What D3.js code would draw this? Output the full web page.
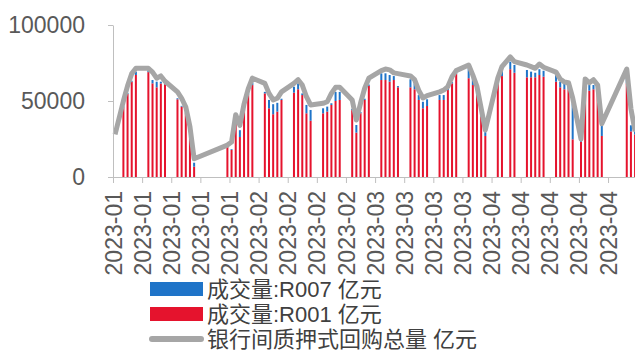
<!DOCTYPE html>
<html>
<head>
<meta charset="utf-8">
<script src="https://cdn.jsdelivr.net/npm/d3@7"></script>
<style>
  html, body { margin: 0; padding: 0; background: #fff; }
  svg { display: block; font-family: "Liberation Sans", Arial, sans-serif; }
</style>
</head>
<body>
<div id="chart"></div>
<script>
// trading days (first entry only carries the line)
const dates = [
  "2023-01-01","2023-01-03","2023-01-04","2023-01-05","2023-01-06",
  "2023-01-09","2023-01-10","2023-01-11","2023-01-12","2023-01-13",
  "2023-01-16","2023-01-17","2023-01-18","2023-01-19","2023-01-20",
  "2023-01-28","2023-01-29","2023-01-30","2023-01-31",
  "2023-02-01","2023-02-02","2023-02-03",
  "2023-02-06","2023-02-07","2023-02-08","2023-02-09","2023-02-10",
  "2023-02-13","2023-02-14","2023-02-15","2023-02-16","2023-02-17",
  "2023-02-20","2023-02-21","2023-02-22","2023-02-23","2023-02-24",
  "2023-02-27","2023-02-28","2023-03-01","2023-03-02","2023-03-03",
  "2023-03-06","2023-03-07","2023-03-08","2023-03-09","2023-03-10",
  "2023-03-13","2023-03-14","2023-03-15","2023-03-16","2023-03-17",
  "2023-03-20","2023-03-21","2023-03-22","2023-03-23","2023-03-24",
  "2023-03-27","2023-03-28","2023-03-29","2023-03-30","2023-03-31",
  "2023-04-03","2023-04-04","2023-04-06","2023-04-07",
  "2023-04-10","2023-04-11","2023-04-12","2023-04-13","2023-04-14",
  "2023-04-17","2023-04-18","2023-04-19","2023-04-20","2023-04-21",
  "2023-04-23","2023-04-24","2023-04-25","2023-04-26","2023-04-27","2023-04-28",
  "2023-05-04","2023-05-05","2023-05-06"
];

// 成交量:R001 亿元
const r001 = [
  null, 45900, 54600, 62700, 67100,
  69000, 61600, 59000, 61500, 61000,
  51100, 46300, 41900, 26100, 6800,
  20000, 17800, 38000, 26300,
  44000, 54000, 60500,
  55000, 45200, 41300, 43000, 50700,
  55500, 57700, 53900, 41900, 37000,
  41900, 43000, 47400, 50000, 50700,
  44000, 29200, 42000, 50700, 60000,
  63800, 63800, 62700, 63800, 59000,
  59000, 57700, 50700, 45200, 46700,
  50700, 50700, 57200, 61600, 67800,
  65000, 60500, 54000, 39700, 27000,
  61600, 66400, 70900, 68600,
  65600, 65600, 65600, 67100, 66000,
  62700, 59000, 57700, 57700, 24800,
  23200, 61600, 56800, 57700, 56000, 27000,
  61600, 30000, 28000
];

// 成交量:R007 亿元
const r007 = [
  null, 600, 600, 600, 2200,
  1000, 2200, 3700, 1200, 500,
  700, 500, 500, 500, 2600,
  500, 500, 1000, 4500,
  800, 800, 1800,
  1000, 5500, 6600, 5800, 800,
  3900, 3900, 1100, 5500, 7100,
  3300, 3300, 1100, 6000, 5300,
  800, 5000, 800, 800, 800,
  4400, 4400, 4400, 2600, 800,
  5300, 3900, 3200, 4300, 4400,
  3200, 3200, 800, 800, 800,
  6500, 5000, 3500, 3300, 2500,
  1500, 4000, 5000, 5100,
  4800, 3700, 3000, 3800, 3900,
  4400, 3700, 3900, 3500, 23700,
  500, 2200, 3700, 2800, 3000, 7200,
  6600, 4000, 2000
];

// 银行间质押式回购总量 亿元
const totalRepo = [
  28000, 50000, 60000, 68000, 71500,
  71500, 69000, 65000, 66500, 63000,
  56000, 51800, 46000, 33000, 12000,
  21000, 23000, 41000, 34000,
  48000, 58000, 65000,
  61600, 55000, 50700, 51800, 56000,
  61600, 64000, 60500, 52800, 47400,
  48500, 49500, 55000, 59000, 59000,
  50700, 37500, 48500, 58400, 65000,
  70000, 71000, 70500, 68500, 68000,
  66500, 64000, 57000, 52000, 53500,
  56000, 57200, 59500, 66000, 70000,
  73700, 67000, 59400, 45200, 30900,
  65000, 72600, 79000, 75900,
  73700, 72600, 71500, 74300, 72200,
  69000, 64500, 62500, 62000, 52000,
  25000, 64500, 62000, 64000, 60500, 35000,
  71000, 45000, 30000
];

const yTicks = [0, 50000, 100000];
const legendLabels = ["成交量:R007 亿元", "成交量:R001 亿元", "银行间质押式回购总量 亿元"];

const width = 635, height = 352;
const colR001 = "#e5132d", colR007 = "#1f74c8", colLine = "#a6a6a6", colAxis = "#bfbfbf";

const parse = d3.utcParse("%Y-%m-%d");
const rows = dates.map((d, i) => ({
  date: parse(d), r001: r001[i], r007: r007[i], total: totalRepo[i]
}));

const dayW = 4.16;
const x0 = 113;
const start = parse("2023-01-01"), end = parse("2023-05-07");
const x = d3.scaleUtc()
  .domain([start, end])
  .range([x0, x0 + d3.utcDay.count(start, end) * dayW]);
const mid = d => x(d3.utcHour.offset(d, 12));

const y = d3.scaleLinear().domain([0, 100000]).range([177, 25]);

const svg = d3.select("#chart").append("svg")
  .attr("width", width).attr("height", height)
  .attr("viewBox", `0 0 ${width} ${height}`);

// bars: R001 at bottom, R007 stacked on top
const barW = 2;
const bars = rows.filter(r => r.r001 != null);
svg.append("g").selectAll("rect").data(bars).enter().append("rect")
  .attr("x", d => mid(d.date) - barW / 2)
  .attr("width", barW)
  .attr("y", d => y(d.r001))
  .attr("height", d => y(0) - y(d.r001))
  .attr("fill", colR001);
svg.append("g").selectAll("rect").data(bars).enter().append("rect")
  .attr("x", d => mid(d.date) - barW / 2)
  .attr("width", barW)
  .attr("y", d => y(d.r001 + d.r007))
  .attr("height", d => y(d.r001) - y(d.r001 + d.r007))
  .attr("fill", colR007);

// total repo line
const line = d3.line().x(d => mid(d.date)).y(d => y(d.total));
svg.append("path").datum(rows)
  .attr("d", line)
  .attr("fill", "none")
  .attr("stroke", colLine)
  .attr("stroke-width", 5)
  .attr("stroke-linejoin", "round");

// y axis
const yAxis = svg.append("g")
  .attr("transform", `translate(${x0},0)`)
  .call(d3.axisLeft(y).tickValues(yTicks).tickFormat(d3.format("d"))
    .tickSize(5).tickSizeOuter(0).tickPadding(23));
yAxis.select(".domain").attr("stroke", colAxis);
yAxis.selectAll(".tick line").attr("stroke", colAxis);
yAxis.selectAll("text").attr("fill", "#595959").style("font-size", "23px");

// x axis, weekly ticks
const weeks = d3.utcSunday.range(start, parse("2023-05-01"));
const xAxis = svg.append("g")
  .attr("transform", `translate(0,${y(0)})`)
  .call(d3.axisBottom(x).tickValues(weeks).tickFormat(d3.utcFormat("%Y-%m"))
    .tickSize(6).tickSizeOuter(0));
xAxis.select(".domain").attr("stroke", colAxis);
xAxis.selectAll(".tick line").attr("stroke", colAxis);
xAxis.selectAll("text")
  .attr("fill", "#595959")
  .style("font-size", "23px")
  .attr("transform", "rotate(-90)")
  .attr("text-anchor", "end")
  .attr("x", -14)
  .attr("y", 0)
  .attr("dy", "0.35em");

// legend
const lg = svg.append("g").attr("transform", "translate(150,0)");
const rowsY = [289, 314, 339];
lg.append("rect").attr("x", 0).attr("y", rowsY[0] - 7).attr("width", 53).attr("height", 14).attr("fill", colR007);
lg.append("rect").attr("x", 0).attr("y", rowsY[1] - 7).attr("width", 53).attr("height", 14).attr("fill", colR001);
lg.append("line").attr("x1", 2).attr("x2", 51).attr("y1", rowsY[2]).attr("y2", rowsY[2])
  .attr("stroke", colLine).attr("stroke-width", 6).attr("stroke-linecap", "round");
lg.selectAll("text").data(legendLabels).enter().append("text")
  .attr("x", 57)
  .attr("y", (d, i) => rowsY[i])
  .attr("dy", "0.35em")
  .attr("fill", "#404040")
  .style("font-size", "22px")
  .style("font-family", "'Liberation Sans', 'Noto Sans CJK SC', sans-serif")
  .text(d => d);
</script>
</body>
</html>
